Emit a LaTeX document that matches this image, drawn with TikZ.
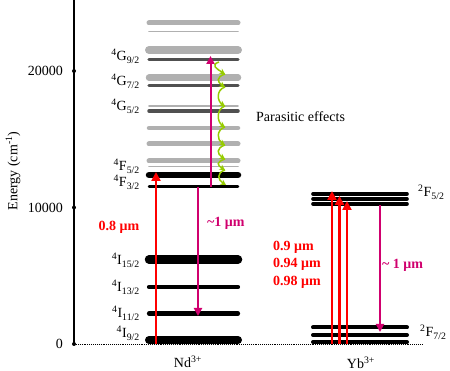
\documentclass[tikz,border=0pt]{standalone}
\usepackage{fontspec}
\setmainfont{Liberation Serif}
\usetikzlibrary{arrows.meta}
\definecolor{mag}{RGB}{208,0,110}
\definecolor{lgray}{RGB}{176,176,176}
\definecolor{dgray}{RGB}{80,80,80}
\definecolor{lime}{RGB}{150,204,0}
\newcommand{\lvl}[3]{\textsuperscript{#1}#2\textsubscript{#3}}
\begin{document}
\begin{tikzpicture}[x=1pt,y=-1pt,
  lv/.style={line cap=round},
  lab/.style={font=\fontsize{14}{16}\selectfont, inner sep=0pt},
  redarr/.style={red, line width=2.6pt, -{Triangle[length=9pt,width=9pt]}},
  magarr/.style={mag, line width=2pt, -{Triangle[length=8pt,width=8pt]}},
  grnarr/.style={lime, line width=1.5pt, -{Stealth[length=5.5pt,width=6pt]}},
  redlab/.style={lab, red, font=\fontsize{14}{16}\selectfont\bfseries},
  maglab/.style={lab, mag, font=\fontsize{14}{16}\selectfont\bfseries}]
\useasboundingbox (0,0) rectangle (450,371);
% axis
\coordinate (atop) at (74,0);
\coordinate (azero) at (74,344);
\draw[line width=1.2pt] (atop) -- (azero);
\coordinate (zend) at (422,344);
\draw[densely dotted, line width=0.9pt] (azero) -- (zend);
\foreach \yy in {71,207.5,344} \fill (74,\yy) circle (2pt);
\node[lab, anchor=east] (t20) at (63,71) {20000};
\node[lab, anchor=east] (t10) at (63,207.5) {10000};
\node[lab, anchor=east] (t0) at (63,344) {0};
\node[lab, rotate=90] (elab) at (13,171) {Energy (cm\textsuperscript{-1})};
% Nd levels: light gray
\foreach \yy/\w in {23/5, 31.7/1.6, 50/8, 77.7/6.5, 106/1.6, 128/4.5, 144/5, 161/5, 166.5/1.6}
  \draw[lv, lgray, line width=\w pt] (149,\yy) -- (238,\yy);
% dark gray
\foreach \yy/\w in {59.5/3.2, 85.7/3.2, 111/3.5}
  \draw[lv, dgray, line width=\w pt] (149,\yy) -- (238,\yy);
% black
\foreach \yy/\w in {175/6.5, 186.5/2.5, 259.5/8.5, 287/4.2, 313.5/4.2, 340/8}
  \draw[lv, black, line width=\w pt] (149,\yy) -- (238,\yy);
% Nd labels
\node[lab, anchor=base east] (g92) at (140,61) {\lvl{4}{G}{9/2}};
\node[lab, anchor=base east] (g72) at (140,86) {\lvl{4}{G}{7/2}};
\node[lab, anchor=base east] (g52) at (140,111) {\lvl{4}{G}{5/2}};
\node[lab, anchor=base east] (f52) at (140,171) {\lvl{4}{F}{5/2}};
\node[lab, anchor=base east] (f32) at (140,187) {\lvl{4}{F}{3/2}};
\node[lab, anchor=base east] (i152) at (140,265) {\lvl{4}{I}{15/2}};
\node[lab, anchor=base east] (i132) at (140,292) {\lvl{4}{I}{13/2}};
\node[lab, anchor=base east] (i112) at (140,318) {\lvl{4}{I}{11/2}};
\node[lab, anchor=base east] (i92) at (140,338) {\lvl{4}{I}{9/2}};
% Yb levels
\foreach \yy in {194,199,204}
  \draw[lv, black, line width=3.6pt] (313,\yy) -- (407,\yy);
\foreach \yy in {327.5,335,342}
  \draw[lv, black, line width=4pt] (313,\yy) -- (407,\yy);
\node[lab, anchor=base west] (yf52) at (418,197) {\lvl{2}{F}{5/2}};
\node[lab, anchor=base west] (yf72) at (420,337) {\lvl{2}{F}{7/2}};
% Nd arrows
\coordinate (nr0) at (156,344); \coordinate (nr1) at (156,172);
\draw[redarr] (nr0) -- (nr1);
\coordinate (nm0) at (198,187); \coordinate (nm1) at (198,316);
\draw[magarr] (nm0) -- (nm1);
\coordinate (nu0) at (210.5,187); \coordinate (nu1) at (210.5,56);
\draw[magarr] (nu0) -- (nu1);
\node[redlab] (l08) at (119,227) {0.8 μm};
\node[maglab, anchor=west] (l1n) at (207,223) {\textasciitilde 1 μm};
% green cascade
\coordinate (c0) at (219,62);
\coordinate (c1) at (225,74);
\coordinate (c2) at (225,87);
\coordinate (c3) at (225,106);
\coordinate (c4) at (225,127);
\coordinate (c5) at (225,145);
\coordinate (c6) at (225,159);
\coordinate (c7) at (225,170);
\coordinate (c8) at (226,185);
\foreach \a/\b in {c0/c1,c1/c2,c2/c3,c3/c4,c4/c5,c5/c6,c6/c7,c7/c8}
  \draw[grnarr] (\a) .. controls +(-9,3) and +(-8,-5) .. (\b);
\node[lab, anchor=west] (par) at (256,117) {Parasitic effects};
% Yb arrows
\coordinate (ya0) at (332,344); \coordinate (ya1) at (332,191);
\coordinate (yb0) at (339.5,344); \coordinate (yb1) at (339.5,196);
\coordinate (yc0) at (347,344); \coordinate (yc1) at (347,201);
\draw[redarr] (ya0) -- (ya1);
\draw[redarr] (yb0) -- (yb1);
\draw[redarr] (yc0) -- (yc1);
\coordinate (ym0) at (380,205); \coordinate (ym1) at (380,332);
\draw[magarr] (ym0) -- (ym1);
\node[redlab, anchor=west] (l09) at (273,247) {0.9 μm};
\node[redlab, anchor=west] (l094) at (273,264.5) {0.94 μm};
\node[redlab, anchor=west] (l098) at (273,282) {0.98 μm};
\node[maglab, anchor=west] (l1y) at (382,265) {\textasciitilde\ 1 μm};
% ion labels
\node[lab] (nd) at (188,362) {Nd\textsuperscript{3+}};
\node[lab] (yb) at (361,363) {Yb\textsuperscript{3+}};
\end{tikzpicture}
\end{document}
